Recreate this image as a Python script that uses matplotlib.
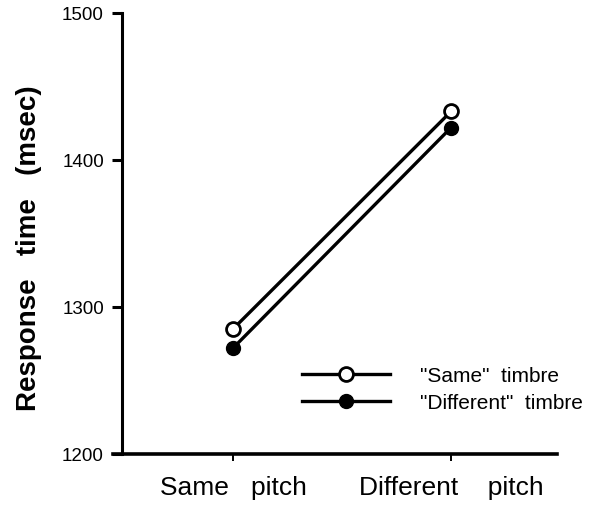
import matplotlib
matplotlib.use('Agg')
import matplotlib.pyplot as plt

plt.rcParams['font.family'] = ['Liberation Sans', 'DejaVu Sans']

conditions = ['Same   pitch', 'Different    pitch']
same_timbre = [1285, 1433]
diff_timbre = [1272, 1422]
yticks = [1200, 1300, 1400, 1500]

fig = plt.figure(figsize=(5.98, 5.06), dpi=100)
ax = fig.add_axes([113 / 598, 51 / 506, 444 / 598, 441 / 506])

x = [0, 1]
ax.plot(x, same_timbre, color='black', lw=2.4, marker='o', ms=10,
        mfc='white', mec='black', mew=2, label='"Same"  timbre', zorder=3)
ax.plot(x, diff_timbre, color='black', lw=2.4, marker='o', ms=10,
        mfc='black', mec='black', label='"Different"  timbre', zorder=2)

ax.set_xlim(-0.55, 1.486)
ax.set_ylim(1200, 1500)
ax.set_yticks(yticks)
ax.set_xticks(x)
ax.set_xticklabels(conditions, fontsize=19)
ax.tick_params(axis='y', labelsize=13.5, length=7, width=2.2, direction='out', pad=6)
ax.tick_params(axis='x', length=5, width=1.4, direction='out', pad=10)

for side in ['top', 'right']:
    ax.spines[side].set_visible(False)
ax.spines['left'].set_position(('axes', 9 / 444))
ax.spines['left'].set_linewidth(2.2)
ax.spines['bottom'].set_linewidth(2.6)

ax.set_ylabel('Response   time   (msec)', fontsize=20, fontweight='bold')
ax.yaxis.set_label_coords(-0.16, 0.47)

ax.legend(loc='upper left', bbox_to_anchor=(302 / 598, 1 - 367 / 506),
          bbox_transform=fig.transFigure, frameon=False, fontsize=15,
          borderpad=0, borderaxespad=0,
          handlelength=4.2, handletextpad=1.45, labelspacing=0.4)

fig.savefig('out.png', dpi=100)
